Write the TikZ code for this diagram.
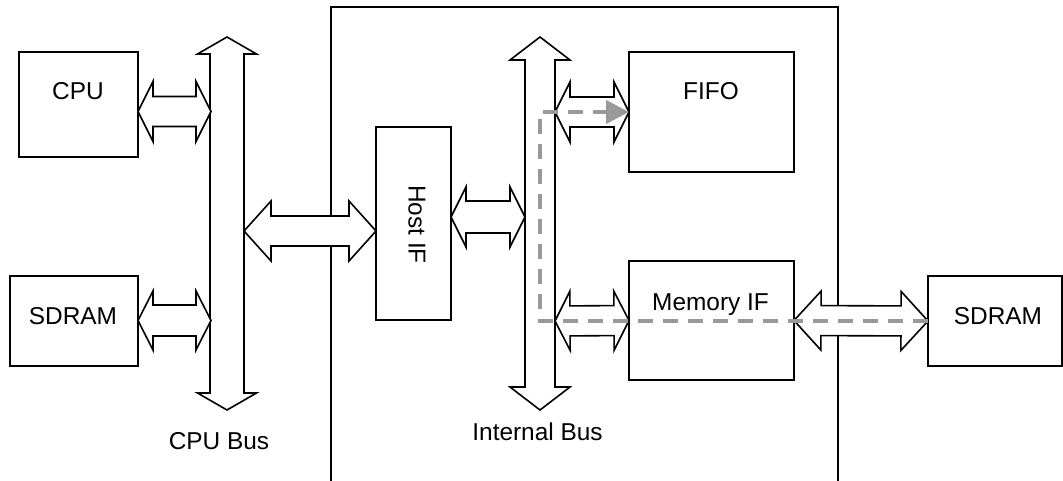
\documentclass[tikz,border=0pt]{standalone}
\usepackage{fontspec}
\setmainfont{Liberation Sans}
\usetikzlibrary{calc,arrows.meta}

% fat double arrow: #1 from, #2 to, #3 shaft half width, #4 head half width, #5 head length
\newcommand{\fatarrow}[5]{%
\draw[fatstyle] (#1) -- ($(#1)!#5!(#2)!#4!90:(#2)$) -- ($(#1)!#5!(#2)!#3!90:(#2)$)
  -- ($(#2)!#5!(#1)!#3!-90:(#1)$) -- ($(#2)!#5!(#1)!#4!-90:(#1)$) -- (#2)
  -- ($(#2)!#5!(#1)!#4!90:(#1)$) -- ($(#2)!#5!(#1)!#3!90:(#1)$)
  -- ($(#1)!#5!(#2)!#3!-90:(#2)$) -- ($(#1)!#5!(#2)!#4!-90:(#2)$) -- cycle;}

\begin{document}
\begin{tikzpicture}[x=1pt, y=-1pt]
\tikzstyle{basic}=[draw, line width=1.6pt, fill=white]
\tikzstyle{block}=[basic, inner sep=0pt, outer sep=0pt]
\tikzstyle{fatstyle}=[basic, line join=miter]
\tikzstyle{labelstyle}=[anchor=base, inner sep=0pt, font=\fontsize{24.4}{28}\selectfont]
\tikzstyle{flowstyle}=[draw=black!40, line width=4pt, dash pattern=on 15pt off 10pt,
  -{Triangle[length=23pt, width=23pt, fill=black!40]}]
\useasboundingbox (0,0) rectangle (1063,481);

% chip outline
\draw[line width=1.6pt] (331,481) -- (331,7) -- (838,7) -- (838,481);

\node[block, minimum width=119pt, minimum height=105pt] (cpu) at (78.5,104.5) {};
\node[block, minimum width=128pt, minimum height=90pt] (sdram0) at (74,321) {};
\node[block, minimum width=75pt, minimum height=193pt] (hostif) at (413.5,223.5) {};
\node[block, minimum width=165pt, minimum height=120pt] (fifo) at (711.5,112) {};
\node[block, minimum width=165pt, minimum height=119pt] (memif) at (711.5,320.5) {};
\node[block, minimum width=134pt, minimum height=90pt] (sdram1) at (995,321) {};

\node[labelstyle] (lcpu) at (78,100) {CPU};
\node[labelstyle] (lsdram0) at (73,324) {SDRAM};
\node[labelstyle, anchor=center, rotate=-90] (lhostif) at (417,224.5) {Host IF};
\node[labelstyle] (lfifo) at (711,100) {FIFO};
\node[labelstyle] (lmemif) at (710.5,310) {Memory IF};
\node[labelstyle] (lsdram1) at (998,324) {SDRAM};
\node[labelstyle] (lcpubus) at (219,449) {CPU Bus};
\node[labelstyle] (libus) at (537.5,440) {Internal Bus};

% buses
\coordinate (cbt) at (227,37);
\coordinate (cbb) at (227,410);
\coordinate (ibt) at (540,37);
\coordinate (ibb) at (540,410);
\fatarrow{cbt}{cbb}{17pt}{29.5pt}{17pt}
\fatarrow{ibt}{ibb}{15pt}{30pt}{23pt}

% links to the buses
\coordinate (a0s) at (cpu.east |- 0,111.5);
\coordinate (a0e) at (211,111.5);
\coordinate (a1s) at (sdram0.east |- 0,320.5);
\coordinate (a1e) at (211,320.5);
\coordinate (a2s) at (244,231);
\coordinate (a2e) at (hostif.west |- 0,231);
\coordinate (a3s) at (hostif.east |- 0,217);
\coordinate (a3e) at (525,217);
\coordinate (a4s) at (555,112);
\coordinate (a5s) at (555,321);
\fatarrow{a0s}{a0e}{15pt}{30pt}{15pt}
\fatarrow{a1s}{a1e}{15.5pt}{29.5pt}{15pt}
\fatarrow{a2s}{a2e}{15pt}{30pt}{27pt}
\fatarrow{a3s}{a3e}{16pt}{30pt}{15pt}
\fatarrow{a4s}{fifo.west}{15pt}{30pt}{15pt}
\fatarrow{a5s}{memif.west}{15pt}{29.5pt}{15pt}
\fatarrow{memif.east}{sdram1.west}{15pt}{29.5pt}{27pt}

% data path
\draw[flowstyle] (sdram1.west) -- (ibt |- sdram1.west) -- (ibt |- fifo.west) -- (fifo.west);
\end{tikzpicture}
\end{document}
